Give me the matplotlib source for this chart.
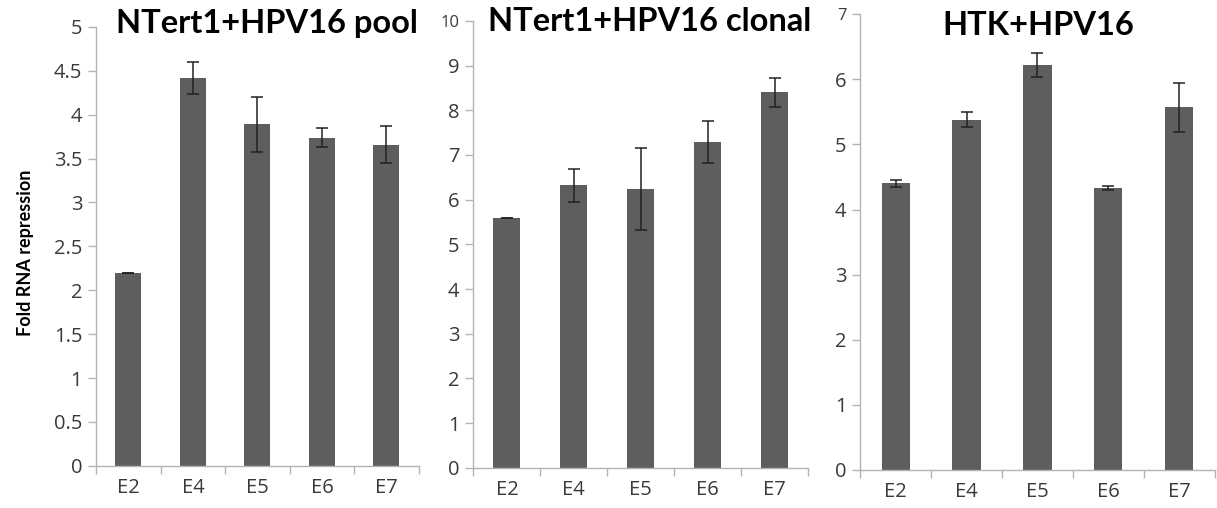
import matplotlib
matplotlib.use('Agg')
import matplotlib.pyplot as plt
import numpy as np

plt.rcParams['font.family'] = ['Lato', 'DejaVu Sans']

genes = ['E2', 'E4', 'E5', 'E6', 'E7']

titles = ['NTert1+HPV16 pool', 'NTert1+HPV16 clonal', 'HTK+HPV16']
pool_vals = [2.2, 4.42, 3.89, 3.74, 3.66]
pool_err = [0.0, 0.18, 0.31, 0.11, 0.21]
clonal_vals = [5.58, 6.32, 6.23, 7.28, 8.4]
clonal_err = [0.0, 0.37, 0.92, 0.47, 0.32]
htk_vals = [4.4, 5.38, 6.22, 4.33, 5.57]
htk_err = [0.05, 0.12, 0.19, 0.025, 0.38]

ymaxes = [5, 10, 7]
ysteps = [0.5, 1, 1]

# axes rectangles in figure fraction (left, bottom, width, height)
rects = [(0.079, 0.083, 0.265, 0.864),
         (0.389, 0.079, 0.275, 0.880),
         (0.707, 0.075, 0.291, 0.897)]
# left edge / vertical centre of each title
title_pos = [(0.095, 0.953), (0.401, 0.957), (0.774, 0.949)]

fig = plt.figure(figsize=(12.17, 5.08), dpi=100)
axis_col = '#b3b3b3'
bar_col = '#5e5e5e'
tick_font = ['Open Sans', 'DejaVu Sans']

data = [(pool_vals, pool_err), (clonal_vals, clonal_err), (htk_vals, htk_err)]
for i, (vals, errs) in enumerate(data):
    ax = fig.add_axes(rects[i])
    x = np.arange(len(genes))
    ax.bar(x, vals, width=0.4, color=bar_col, zorder=2)
    ax.errorbar(x, vals, yerr=errs, fmt='none', ecolor='#222222',
                elinewidth=1.1, capsize=4, capthick=1.1, zorder=3)
    ax.set_xlim(-0.5, len(genes) - 0.5)
    ax.set_ylim(0, ymaxes[i])
    yt = np.arange(0, ymaxes[i] + 1e-9, ysteps[i])
    ax.set_yticks(yt)
    ax.set_yticklabels(['%g' % v for v in yt], family=tick_font, fontsize=14.5,
                       color='#3a3a3a')
    ax.set_xticks(x)
    ax.set_xticklabels(genes, family=tick_font, fontsize=14.5, color='#3a3a3a')
    ax.set_xticks(np.arange(-0.5, len(genes)), minor=True)
    ax.tick_params(axis='x', which='major', length=0, pad=9)
    ax.tick_params(axis='x', which='minor', length=6, color=axis_col, width=1)
    ax.tick_params(axis='y', length=6, color=axis_col, width=1, pad=4)
    if i > 0:
        # top label is drawn smaller in the original
        ax.get_yticklabels()[-1].set_fontsize(12)
    for s in ['top', 'right']:
        ax.spines[s].set_visible(False)
    for s in ['left', 'bottom']:
        ax.spines[s].set_color(axis_col)
        ax.spines[s].set_linewidth(1)
    fig.text(title_pos[i][0], title_pos[i][1], titles[i], ha='left',
             va='center', fontsize=23.5, fontweight='bold', color='black')

fig.text(0.021, 0.502, 'Fold RNA repression', rotation=90, ha='center', va='center',
         fontsize=13, fontweight='bold')

fig.savefig('out.png', dpi=100)
